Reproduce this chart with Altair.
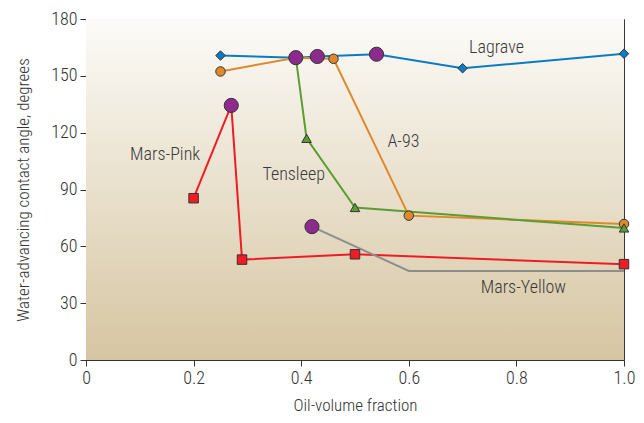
import altair as alt
import pandas as pd

FONT = "'Roboto Condensed', 'Liberation Sans Narrow', 'DejaVu Sans Condensed', sans-serif"

# ---- data ----
series_names = ["Lagrave", "A-93", "Tensleep", "Mars-Pink", "Mars-Yellow"]
series_colors = ["#0a7cc4", "#e0892a", "#5a9e32", "#ee1c25", "#8e8e8e"]

lagrave_x = [0.25, 0.39, 0.43, 0.54, 0.70, 1.0]
lagrave_y = [160.7, 159.6, 160.2, 161.4, 154.0, 161.7]
a93_x = [0.25, 0.39, 0.46, 0.60, 1.0]
a93_y = [152.3, 159.6, 159.0, 76.2, 71.8]
tensleep_x = [0.39, 0.41, 0.50, 1.0]
tensleep_y = [159.6, 117.0, 80.5, 69.7]
marspink_x = [0.20, 0.27, 0.29, 0.50, 1.0]
marspink_y = [85.4, 134.4, 53.0, 55.8, 50.6]
marsyellow_x = [0.42, 0.60, 1.0]
marsyellow_y = [70.4, 47.0, 47.0]

# points drawn with the series' own marker
lagrave_marker_x = [0.25, 0.70, 1.0]
lagrave_marker_y = [160.7, 154.0, 161.7]
a93_marker_x = [0.25, 0.46, 0.60, 1.0]
a93_marker_y = [152.3, 159.0, 76.2, 71.8]
tensleep_marker_x = [0.41, 0.50, 1.0]
tensleep_marker_y = [117.0, 80.5, 69.7]
marspink_marker_x = [0.20, 0.29, 0.50, 1.0]
marspink_marker_y = [85.4, 53.0, 55.8, 50.6]

# large purple transition points
purple_x = [0.27, 0.39, 0.43, 0.54, 0.42]
purple_y = [134.4, 159.6, 160.2, 161.4, 70.4]

# in-plot labels
label_text = ["Lagrave", "A-93", "Tensleep", "Mars-Pink", "Mars-Yellow"]
label_x = [0.763, 0.59, 0.386, 0.147, 0.813]
label_y = [164.9, 115.3, 97.6, 108.4, 38.0]

x_ticks = [0, 0.2, 0.4, 0.6, 0.8, 1.0]
y_ticks = [0, 30, 60, 90, 120, 150, 180]

# ---- tables ----
line_rows = []
for name, xs, ys in [("Lagrave", lagrave_x, lagrave_y), ("A-93", a93_x, a93_y),
                     ("Tensleep", tensleep_x, tensleep_y), ("Mars-Pink", marspink_x, marspink_y),
                     ("Mars-Yellow", marsyellow_x, marsyellow_y)]:
    for i, (x, y) in enumerate(zip(xs, ys)):
        line_rows.append({"series": name, "x": x, "y": y, "order": i})
lines_df = pd.DataFrame(line_rows)

marker_rows = []
for name, xs, ys in [("Lagrave", lagrave_marker_x, lagrave_marker_y), ("A-93", a93_marker_x, a93_marker_y),
                     ("Tensleep", tensleep_marker_x, tensleep_marker_y),
                     ("Mars-Pink", marspink_marker_x, marspink_marker_y)]:
    for x, y in zip(xs, ys):
        marker_rows.append({"series": name, "x": x, "y": y})
markers_df = pd.DataFrame(marker_rows)

purple_df = pd.DataFrame({"x": purple_x, "y": purple_y})
labels_df = pd.DataFrame({"text": label_text, "x": label_x, "y": label_y})

xscale = alt.Scale(domain=[0, 1], nice=False, zero=False)
yscale = alt.Scale(domain=[0, 180], nice=False)
color_scale = alt.Scale(domain=series_names, range=series_colors)

xaxis = alt.Axis(values=x_ticks, title="Oil-volume fraction",
                 labelExpr="datum.value == 0 ? '0' : format(datum.value, '.1f')",
                 labelFlush=False, grid=False, tickSize=6, labelPadding=3, titlePadding=10)
yaxis = alt.Axis(values=y_ticks, title="Water-advancing contact angle, degrees",
                 grid=False, tickSize=6, labelPadding=3, titlePadding=18)

background = alt.Chart(pd.DataFrame({"a": [0]})).mark_rect(
    color=alt.Gradient(gradient="linear",
                       stops=[alt.GradientStop(color="#fcfbf8", offset=0),
                              alt.GradientStop(color="#d6c5a1", offset=1)],
                       x1=0, x2=0, y1=0, y2=1)
).encode(
    x=alt.datum(0, scale=xscale, axis=xaxis, type="quantitative"),
    x2=alt.datum(1),
    y=alt.datum(180, scale=yscale, axis=yaxis, type="quantitative"),
    y2=alt.datum(0),
)

lines = alt.Chart(lines_df).mark_line(strokeWidth=2).encode(
    x=alt.X("x:Q", scale=xscale),
    y=alt.Y("y:Q", scale=yscale),
    color=alt.Color("series:N", scale=color_scale, legend=None),
    detail="series:N",
    order="order:Q",
)

markers = alt.Chart(markers_df).mark_point(filled=True, stroke="#333333", strokeWidth=1, opacity=1).encode(
    x=alt.X("x:Q", scale=xscale),
    y=alt.Y("y:Q", scale=yscale),
    fill=alt.Fill("series:N", scale=color_scale, legend=None),
    shape=alt.Shape("series:N", scale=alt.Scale(domain=["Lagrave", "A-93", "Tensleep", "Mars-Pink"],
                                                range=["diamond", "circle", "triangle-up", "square"]),
                    legend=None),
    size=alt.value(90),
)

purple = alt.Chart(purple_df).mark_point(filled=True, fill="#8c2a8e", stroke="#333333",
                                         strokeWidth=1, opacity=1, size=200, shape="circle").encode(
    x=alt.X("x:Q", scale=xscale),
    y=alt.Y("y:Q", scale=yscale),
)

labels = alt.Chart(labels_df).mark_text(font=FONT, fontSize=18, fontWeight=300, color="#3a3a3a").encode(
    x=alt.X("x:Q", scale=xscale),
    y=alt.Y("y:Q", scale=yscale),
    text="text:N",
)

chart = alt.layer(background, lines, markers, purple, labels).properties(
    width=538, height=341,
    autosize=alt.AutoSizeParams(type="none"),
    padding={"left": 78, "top": 11, "right": 12, "bottom": 55},
).configure_view(
    stroke="#3a3a3a", strokeWidth=1,
).configure_axis(
    labelFont=FONT, titleFont=FONT, labelFontSize=18, titleFontSize=17,
    labelFontWeight=300, titleFontWeight=300,
    labelColor="#333333", titleColor="#333333",
    domainColor="#333333", tickColor="#333333", domainWidth=1, tickWidth=1,
)

chart.save("out.html", embed_options={"renderer": "svg", "actions": False})
